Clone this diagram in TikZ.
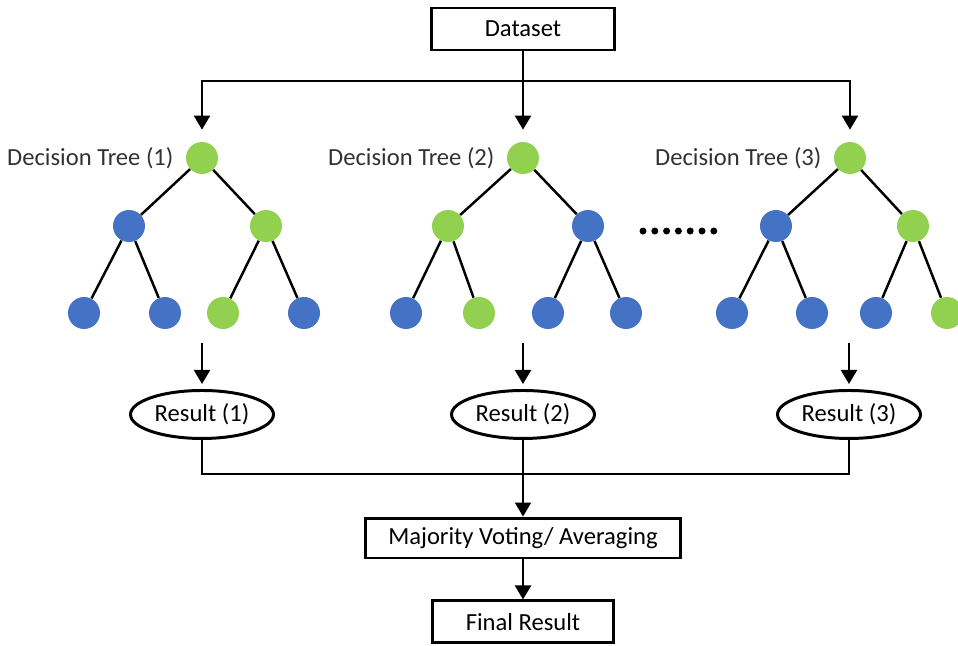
\documentclass[tikz,border=0pt]{standalone}
\usepackage{fontspec}
\setmainfont{Carlito}
\usetikzlibrary{shapes,positioning,arrows.meta}
\definecolor{nodegreen}{RGB}{146,208,80}
\definecolor{nodeblue}{RGB}{68,114,196}
\definecolor{labelgray}{RGB}{50,50,50}

\begin{document}
\begin{tikzpicture}[x=0.02cm, y=-0.02cm, font=\fontsize{14}{17}\selectfont, text=labelgray,
    gnode/.style={circle, fill=nodegreen, minimum size=0.64cm, inner sep=0pt},
    bnode/.style={circle, fill=nodeblue, minimum size=0.64cm, inner sep=0pt},
    branch/.style={line width=1.4pt},
    arr/.style={line width=1.2pt, -{Triangle[length=0.28cm, width=0.32cm]}},
    box/.style={draw, rectangle, line width=1.7pt, text=black},
    result/.style={draw, ellipse, line width=1.7pt, inner xsep=0pt, minimum width=2.86cm, minimum height=0.96cm, text=black}]
    \useasboundingbox (0,0) rectangle (958,646);

    % input
    \node [box, minimum width=3.68cm, minimum height=0.84cm] (ds) at (523,29) {Dataset};
    \coordinate (split) at (523,81);

    % tree 1
    \node [gnode] (t1r) at (202,158) {};
    \node [bnode] (t1a) at (129,226) {};
    \node [gnode] (t1b) at (266,226) {};
    \node [bnode] (t1aa) at (84,313) {};
    \node [bnode] (t1ab) at (165,313) {};
    \node [gnode] (t1ba) at (223,313) {};
    \node [bnode] (t1bb) at (304,313) {};

    % tree 2
    \node [gnode] (t2r) at (523,158) {};
    \node [gnode] (t2a) at (448,226) {};
    \node [bnode] (t2b) at (588,226) {};
    \node [bnode] (t2aa) at (406,313) {};
    \node [gnode] (t2ab) at (479,313) {};
    \node [bnode] (t2ba) at (548,313) {};
    \node [bnode] (t2bb) at (626,313) {};

    % tree 3
    \node [gnode] (t3r) at (850,158) {};
    \node [bnode] (t3a) at (776,226) {};
    \node [gnode] (t3b) at (913,226) {};
    \node [bnode] (t3aa) at (732,313) {};
    \node [bnode] (t3ab) at (812,313) {};
    \node [bnode] (t3ba) at (876,313) {};
    \node [gnode] (t3bb) at (947,313) {};

    \foreach \t in {1,2,3} {
        \draw [branch] (t\t r) -- (t\t a);
        \draw [branch] (t\t r) -- (t\t b);
        \draw [branch] (t\t a) -- (t\t aa);
        \draw [branch] (t\t a) -- (t\t ab);
        \draw [branch] (t\t b) -- (t\t ba);
        \draw [branch] (t\t b) -- (t\t bb);
    }

    \node [left=0.12cm of t1r] {Decision Tree (1)};
    \node [left=0.12cm of t2r] {Decision Tree (2)};
    \node [left=0.12cm of t3r] {Decision Tree (3)};

    % more trees
    \foreach \i in {0,...,6}
        \fill (643+\i*11.8,231) circle (0.07cm);

    % dataset to trees
    \draw [branch] (ds.south) -- (split);
    \draw [arr, shorten >=0.24cm] (split) -| (t1r.north);
    \draw [arr, shorten >=0.24cm] (split) -- (t2r.north);
    \draw [arr, shorten >=0.24cm] (split) -| (t3r.north);

    % results
    \coordinate (t1out) at (202,343);
    \coordinate (t2out) at (523,343);
    \coordinate (t3out) at (849,343);
    \node [result, below=0.92cm of t1out] (res1) {Result (1)};
    \node [result, below=0.92cm of t2out] (res2) {Result (2)};
    \node [result, below=0.92cm of t3out] (res3) {Result (3)};
    \draw [arr, shorten >=0.1cm] (t1out) -- (res1.north);
    \draw [arr, shorten >=0.1cm] (t2out) -- (res2.north);
    \draw [arr, shorten >=0.1cm] (t3out) -- (res3.north);

    % aggregation
    \coordinate (join) at (523,474);
    \node [box, minimum width=6.32cm, minimum height=0.8cm] (vote) at (523,538) {Majority Voting/ Averaging};
    \node [box, minimum width=3.64cm, minimum height=0.84cm, below=0.8cm of vote] (final) {Final Result};
    \draw [branch] (res1.south) |- (join);
    \draw [branch] (res3.south) |- (join);
    \draw [arr] (res2.south) -- (vote.north);
    \draw [arr] (vote.south) -- (final.north);
\end{tikzpicture}
\end{document}
